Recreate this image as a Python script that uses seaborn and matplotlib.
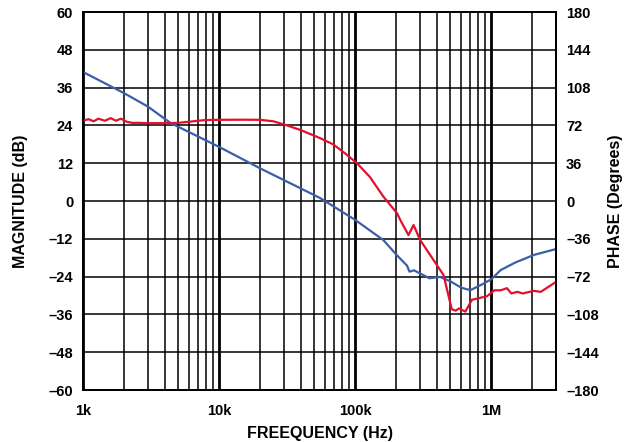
import matplotlib
matplotlib.use("Agg")
import matplotlib.pyplot as plt
from matplotlib.ticker import FixedLocator, LogLocator, NullFormatter
import pandas as pd
import seaborn as sns

# magnitude trace (blue), dB
freq_mag = [1e3, 2e3, 3e3, 4.4e3, 1e4, 2e4, 5.5e4, 1e5, 1.61e5, 2e5, 2.4e5,
            2.5e5, 2.7e5, 3e5, 3.5e5, 4.2e5, 5e5, 6e5, 7e5, 8.5e5, 1e6,
            1.17e6, 1.5e6, 2.05e6, 3e6]
magnitude_db = [41, 34.3, 30, 24.8, 17.2, 10.4, 1, -6, -12.4, -17, -20.5,
                -22.4, -22, -23, -24.5, -24.1, -25.5, -27.5, -28.3, -26.5, -24.8,
                -21.9, -19.5, -17.1, -15.2]

# phase trace (red), degrees
freq_phase = [1e3, 1.1e3, 1.2e3, 1.3e3, 1.45e3, 1.6e3, 1.75e3, 1.9e3, 2.1e3, 2.3e3,
              2.6e3, 3e3, 4e3, 5e3, 6e3, 7e3, 8e3, 1e4, 1.5e4, 2e4,
              2.5e4, 3e4, 4e4, 5.5e4, 6.9e4, 8.5e4, 1.03e5, 1.28e5, 1.61e5, 2.03e5,
              2.14e5, 2.46e5, 2.68e5, 3e5, 4.45e5, 5.11e5, 5.45e5, 5.8e5, 6.43e5, 7.2e5,
              9.3e5, 1.05e6, 1.17e6, 1.3e6, 1.4e6, 1.55e6, 1.7e6, 2.05e6, 2.3e6, 3e6]
phase_deg = [76.5, 78, 76, 78.5, 76.5, 79, 76.5, 78.5, 75.5, 74.5,
             74.5, 74.2, 74.2, 74.5, 75.5, 76.5, 77.2, 77.4, 77.5, 77.4,
             76, 73, 67.5, 60, 54, 45, 36, 23, 4.2, -11.7,
             -18, -32.4, -22.8, -37.2, -70.5, -103, -104.4, -102.3, -105.3, -94,
             -90.6, -85, -85, -83, -88, -86.5, -88, -85.5, -86.5, -76.8]

mag_ticks = list(range(-60, 61, 12))
phase_ticks = list(range(-180, 181, 36))
freq_ticks = [1e3, 1e4, 1e5, 1e6]
freq_labels = ["1k", "10k", "100k", "1M"]

sns.set_style("white")
plt.rcParams["font.family"] = ["Liberation Sans", "DejaVu Sans"]
plt.rcParams["font.weight"] = "bold"
plt.rcParams["text.color"] = "black"
plt.rcParams["axes.labelcolor"] = "black"
plt.rcParams["xtick.color"] = "black"
plt.rcParams["ytick.color"] = "black"

fig = plt.figure(figsize=(6.28, 4.42), dpi=100)
ax = fig.add_axes([0.132, 0.1176, 0.754, 0.855])
ax2 = ax.twinx()

mag_df = pd.DataFrame({"freq": freq_mag, "mag": magnitude_db})
phase_df = pd.DataFrame({"freq": freq_phase, "phase": phase_deg})

sns.lineplot(data=mag_df, x="freq", y="mag", ax=ax, color="#3a5ea8", lw=1.6, zorder=5)
sns.lineplot(data=phase_df, x="freq", y="phase", ax=ax2, color="#e2102e", lw=1.6)

for a in (ax, ax2):
    a.set_xscale("log")
    a.set_xlim(1e3, 3e6)

ax.set_ylim(-60, 60)
ax2.set_ylim(-180, 180)
ax.set_yticks(mag_ticks)
ax.set_yticklabels([str(v).replace("-", "\u2013") for v in mag_ticks])
ax2.set_yticks(phase_ticks)
ax2.set_yticklabels([str(v).replace("-", "\u2013") for v in phase_ticks])

ax.xaxis.set_major_locator(FixedLocator(freq_ticks))
ax.set_xticklabels(freq_labels)
ax.xaxis.set_minor_locator(LogLocator(base=10, subs=range(2, 10)))
ax.xaxis.set_minor_formatter(NullFormatter())

ax.grid(axis="y", color="black", lw=1.1)
ax.grid(axis="x", which="major", color="black", lw=2.0)
ax.grid(axis="x", which="minor", color="black", lw=1.1)
ax.set_axisbelow(True)

for a in (ax, ax2):
    a.tick_params(which="both", length=0, labelsize=10.5, pad=7, colors="black")
    for s in a.spines.values():
        s.set_color("black")
        s.set_linewidth(1.3)
ax.tick_params(axis="x", pad=10)

ax.set_xlabel("FREEQUENCY (Hz)", fontsize=11.5, fontweight="bold", color="black")
ax.set_ylabel("MAGNITUDE (dB)", fontsize=11.5, fontweight="bold", color="black")
ax2.set_ylabel("PHASE (Degrees)", fontsize=11.5, fontweight="bold", color="black")
ax2.set_xlabel("")
ax.xaxis.set_label_coords(0.5, -0.095)
ax.yaxis.set_label_coords(-0.116, 0.5)
ax2.yaxis.set_label_coords(1.108, 0.5)

fig.savefig("out.png", dpi=100)
